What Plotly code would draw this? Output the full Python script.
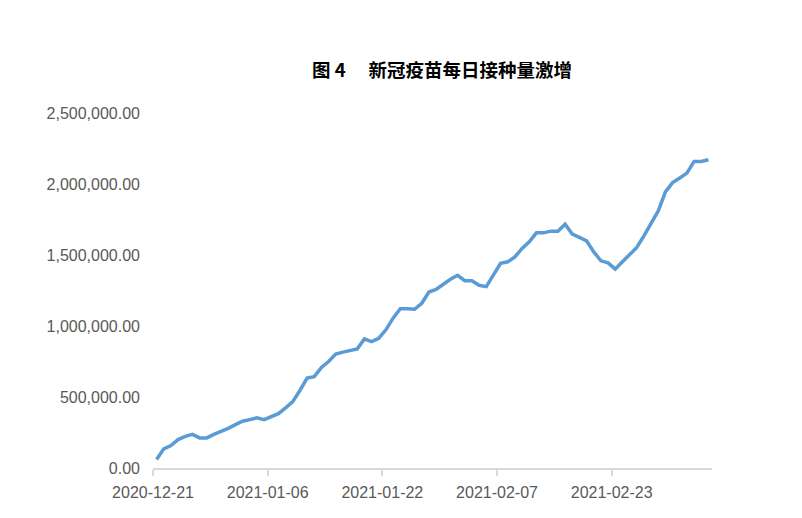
import pandas as pd
import plotly.graph_objects as go

start_date = "2020-12-21"
daily_doses = [
    60000, 135000, 158000, 200000, 223000, 237000, 212000, 212000, 237000, 256000,
    279000, 305000, 329000, 341000, 353000, 341000, 364000, 383000, 423000, 467000,
    546000, 633000, 643000, 708000, 750000, 802000, 816000, 827000, 839000, 909000,
    890000, 914000, 973000, 1055000, 1122000, 1122000, 1118000, 1160000, 1239000, 1257000,
    1296000, 1329000, 1357000, 1319000, 1319000, 1287000, 1277000, 1359000, 1441000, 1452000,
    1487000, 1546000, 1593000, 1656000, 1656000, 1668000, 1668000, 1717000, 1647000, 1624000,
    1600000, 1522000, 1459000, 1445000, 1401000, 1452000, 1504000, 1553000, 1635000, 1726000,
    1810000, 1944000, 2010000, 2042000, 2077000, 2159000, 2159000, 2171000,
]
dates = pd.date_range(start_date, periods=len(daily_doses), freq="D")

title_text = "图 4\u3000 新冠疫苗每日接种量激增"

fig = go.Figure()
fig.add_trace(go.Scatter(
    x=dates, y=daily_doses, mode="lines",
    xperiod=86400000, xperiodalignment="middle",
    line=dict(color="#5B9BD5", width=3.5),
    hoverinfo="skip",
))

fig.update_layout(
    width=802, height=518,
    margin=dict(l=145, r=98, t=105, b=58),
    paper_bgcolor="white", plot_bgcolor="white",
    showlegend=False,
    title=dict(
        text="<b>" + title_text + "</b>",
        x=434 / 802, xanchor="center", xref="container",
        y=1 - 63 / 518, yanchor="middle", yref="container",
        font=dict(family="Noto Sans CJK SC", size=18.5, color="#000000"),
    ),
    font=dict(family="Liberation Sans, Arial, sans-serif", size=16, color="#595959"),
)

fig.update_xaxes(
    type="date",
    range=["2020-12-21", "2021-03-09"],
    tick0="2020-12-21", dtick=16 * 86400000,
    tickformat="%Y-%m-%d",
    showgrid=False, zeroline=False,
    showline=True, linecolor="#D9D9D9", linewidth=1.5,
    ticks="outside", ticklen=6, tickcolor="#D9D9D9", tickwidth=1.5,
    ticklabelstandoff=3,
    tickfont=dict(family="Liberation Sans, Arial, sans-serif", size=16, color="#595959"),
)
fig.update_yaxes(
    range=[0, 2500000], dtick=500000, tick0=0,
    tickformat=",.2f",
    showgrid=False, zeroline=False, showline=False,
    ticks="", ticklabelstandoff=12,
    tickfont=dict(family="Liberation Sans, Arial, sans-serif", size=16, color="#595959"),
)

fig.write_html("out.html")
